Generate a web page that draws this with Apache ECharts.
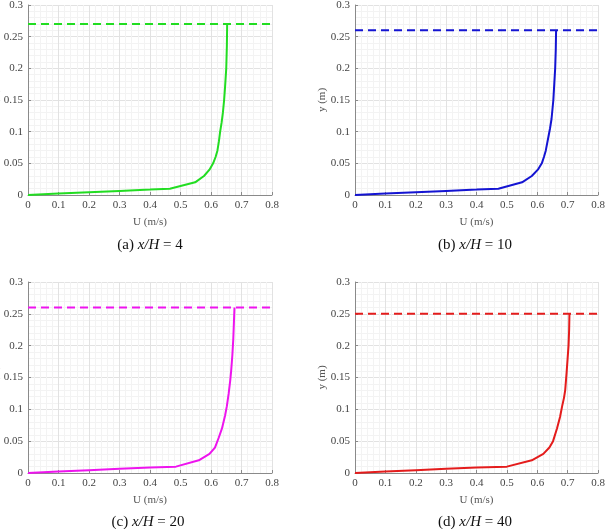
<!DOCTYPE html>
<html>
<head>
<meta charset="utf-8">
<script src="https://cdn.jsdelivr.net/npm/echarts@6/dist/echarts.min.js"></script>
<style>
  html, body { margin: 0; padding: 0; background: #fff; }
  #chart { width: 606px; height: 529px; }
</style>
</head>
<body>
<div id="chart"></div>
<script>
// velocity profiles [U (m/s), y (m)]
const profileA = [[0,0],[0.1,0.0025],[0.2,0.0045],[0.3,0.0065],[0.4,0.0085],[0.465,0.01],[0.548,0.02],[0.577,0.03],[0.595,0.04],[0.607,0.05],[0.615,0.06],[0.621,0.07],[0.626,0.085],[0.63,0.1],[0.635,0.115],[0.639,0.13],[0.643,0.15],[0.646,0.17],[0.65,0.2],[0.652,0.235],[0.653,0.27]]
const profileB = [[0,0],[0.1,0.0025],[0.2,0.0045],[0.3,0.0065],[0.4,0.0085],[0.472,0.01],[0.55,0.02],[0.582,0.03],[0.602,0.04],[0.615,0.05],[0.622,0.06],[0.628,0.07],[0.636,0.09],[0.642,0.105],[0.647,0.12],[0.653,0.15],[0.656,0.175],[0.659,0.2],[0.661,0.23],[0.662,0.26]]
const profileC = [[0,0],[0.1,0.0025],[0.2,0.0045],[0.3,0.0065],[0.4,0.0085],[0.485,0.01],[0.56,0.02],[0.595,0.03],[0.613,0.04],[0.625,0.055],[0.636,0.07],[0.646,0.09],[0.652,0.105],[0.658,0.125],[0.663,0.145],[0.666,0.16],[0.67,0.185],[0.673,0.21],[0.675,0.235],[0.677,0.26]]
const profileD = [[0,0],[0.1,0.0025],[0.2,0.0045],[0.3,0.0065],[0.4,0.0085],[0.5,0.01],[0.582,0.02],[0.62,0.03],[0.64,0.04],[0.652,0.05],[0.665,0.07],[0.675,0.088],[0.682,0.105],[0.688,0.118],[0.692,0.13],[0.697,0.16],[0.7,0.18],[0.703,0.2],[0.705,0.225],[0.706,0.25]]
// flow depth (dashed line) for each panel
const depths = [0.27, 0.26, 0.26, 0.25]
const labels = ['(a)', '(b)', '(c)', '(d)']
const xOverH = ['4', '10', '20', '40']
const colors = ['#22dd22', '#1414d2', '#ee14ee', '#e41c1c']
const profiles = [profileA, profileB, profileC, profileD]

const grids = [
  { left: 28, top: 5, width: 244, height: 190, outerBoundsMode: 'none' },
  { left: 355, top: 5, width: 243, height: 190, outerBoundsMode: 'none' },
  { left: 28, top: 282, width: 244, height: 191, outerBoundsMode: 'none' },
  { left: 355, top: 282, width: 243, height: 191, outerBoundsMode: 'none' }
]
const captionPos = [[145, 240], [470, 240], [143, 517], [470, 517]]

const font = 'Liberation Serif'
const axisLine = { show: true, lineStyle: { color: '#8a8a8a', width: 1 } }

let xAxes = [], yAxes = [], series = [], titles = []
for (let i = 0; i < 4; i++) {
  xAxes.push({
    gridIndex: i, type: 'value', min: 0, max: 0.8, interval: 0.1,
    name: 'U (m/s)', nameLocation: 'middle', nameGap: 22,
    nameTextStyle: { fontFamily: font, fontSize: 11, color: '#555' },
    axisLine: axisLine,
    axisTick: { show: true, inside: true, length: 3, lineStyle: { color: '#8a8a8a' } },
    axisLabel: { fontFamily: font, fontSize: 11, color: '#444', margin: 5 },
    splitLine: { show: true, lineStyle: { color: '#e2e2e2', width: 1 } },
    minorTick: { show: false, splitNumber: 5 },
    minorSplitLine: { show: true, lineStyle: { color: '#f3f3f3', width: 1 } }
  })
  yAxes.push({
    gridIndex: i, type: 'value', min: 0, max: 0.3, interval: 0.05,
    name: 'y (m)', nameLocation: 'middle', nameGap: 27, nameRotate: 90,
    nameMoveOverlap: false,
    nameTextStyle: { fontFamily: font, fontSize: 11, color: '#555' },
    axisLine: axisLine,
    axisTick: { show: true, inside: true, length: 3, lineStyle: { color: '#8a8a8a' } },
    axisLabel: { fontFamily: font, fontSize: 11, color: '#444', margin: 5 },
    splitLine: { show: true, lineStyle: { color: '#e2e2e2', width: 1 } },
    minorTick: { show: false, splitNumber: 5 },
    minorSplitLine: { show: true, lineStyle: { color: '#f3f3f3', width: 1 } }
  })
  series.push({
    type: 'line', xAxisIndex: i, yAxisIndex: i,
    data: profiles[i], showSymbol: false, smooth: false,
    lineStyle: { color: colors[i], width: 2 }, z: 3
  })
  series.push({
    type: 'line', xAxisIndex: i, yAxisIndex: i,
    data: [[0, depths[i]], [0.8, depths[i]]], showSymbol: false,
    lineStyle: { color: colors[i], width: 2, type: [8, 5] }, z: 3
  })
  titles.push({
    text: '{n|' + labels[i] + ' }{i|x/H}{n| = ' + xOverH[i] + '}',
    left: captionPos[i][0], top: captionPos[i][1],
    textAlign: 'center', textVerticalAlign: 'middle',
    textStyle: {
      fontWeight: 'normal',
      rich: {
        n: { fontFamily: font, fontSize: 15, fontWeight: 'normal', color: '#111' },
        i: { fontFamily: font, fontSize: 15, fontWeight: 'normal', fontStyle: 'italic', color: '#111' }
      }
    }
  })
}

const chart = echarts.init(document.getElementById('chart'), null, { renderer: 'canvas' })
chart.setOption({
  animation: false,
  backgroundColor: '#fff',
  title: titles,
  grid: grids,
  xAxis: xAxes,
  yAxis: yAxes,
  series: series
})
</script>
</body>
</html>
